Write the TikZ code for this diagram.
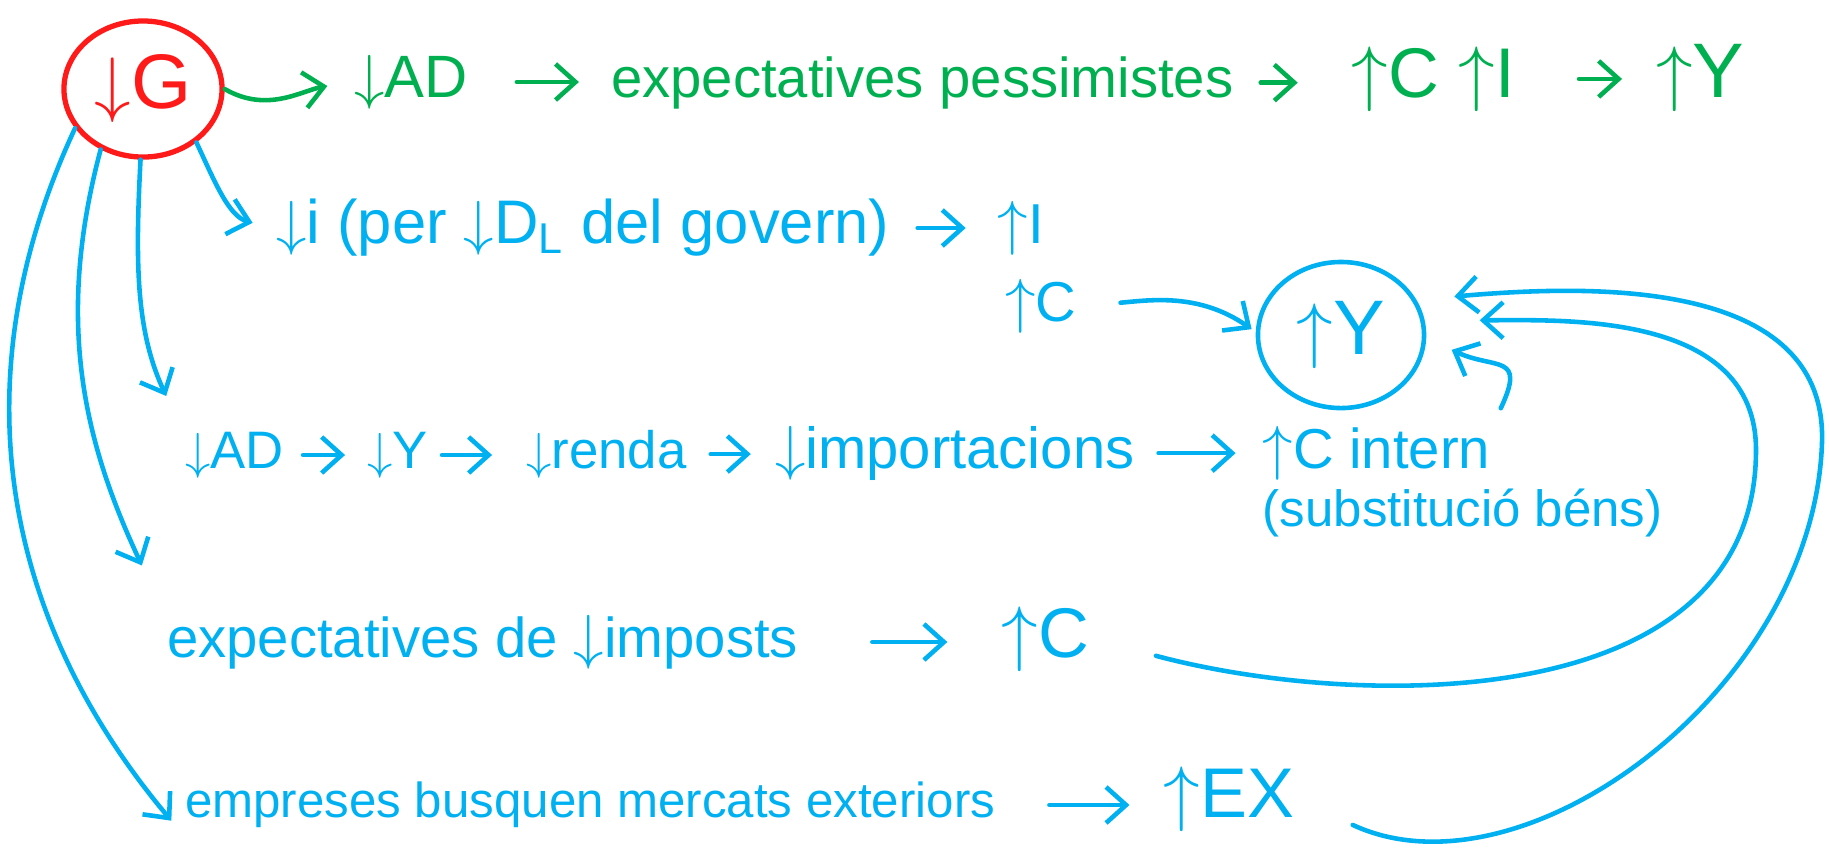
\documentclass[tikz,border=0pt]{standalone}
\usepackage{fontspec}
\setmainfont{Liberation Sans}
\usetikzlibrary{
  arrows.meta,
  positioning,
  shapes.geometric
}
\definecolor{handred}{HTML}{FF1A1A}
\definecolor{handgreen}{HTML}{00B050}
\definecolor{handblue}{HTML}{00B0F0}

\begin{document}
\begin{tikzpicture}[
  x=0.01cm, y=0.01cm,
  gtext/.style={text=handgreen, inner sep=1pt, font=\fontsize{16}{19}\selectfont},
  btext/.style={text=handblue, inner sep=1pt, font=\fontsize{16}{19}\selectfont},
  sz/.style={font=\fontsize{#1}{#1}\selectfont},
  redcirc/.style={
    ellipse, draw=handred, line width=1.5pt, text=handred, inner sep=0pt,
    minimum width=1.58cm, minimum height=1.36cm, font=\fontsize{22}{26}\selectfont,
  },
  bluecirc/.style={
    ellipse, draw=handblue, line width=1.3pt, text=handblue, inner sep=0pt,
    minimum width=1.66cm, minimum height=1.46cm, font=\fontsize{22}{26}\selectfont,
  },
  garrow/.style={->, >={Straight Barb[length=2mm,width=3.6mm]}, line width=1.3pt,
    line cap=round, draw=handgreen, shorten <=2mm, shorten >=2mm},
  barrow/.style={->, >={Straight Barb[length=2mm,width=3.6mm]}, line width=1.3pt,
    line cap=round, draw=handblue, shorten <=2mm, shorten >=2mm},
]
\useasboundingbox (0,0) rectangle (1829,-856);

\node[redcirc] (G) at (143,-89) {$\downarrow$G};

% top chain
\node[gtext, sz=17, anchor=west] (gAD) at (350,-82) {$\downarrow$AD};
\node[gtext, base right=1.35cm of gAD] (gexp) {expectatives pessimistes};
\node[gtext, sz=20, base right=1.1cm of gexp] (gCI) {$\uparrow$C $\uparrow$I};
\node[gtext, sz=22, base right=1.33cm of gCI] (gY) {$\uparrow$Y};

% interest rate
\node[btext, sz=17.5, anchor=west] (bi) at (272,-228) {$\downarrow$i (per $\downarrow$D\textsubscript{L} del govern)};
\node[btext, base right=1.0cm of bi] (bIup) {$\uparrow$I};
\node[btext, below=0.15cm of bIup, xshift=0.2cm] (bCup) {$\uparrow$C};

\node[bluecirc] (bigY) at (1341,-335) {$\uparrow$Y};

% imports
\node[btext, sz=15, anchor=west] (bAD) at (181,-455) {$\downarrow$AD};
\node[btext, sz=15, base right=0.75cm of bAD] (bY) {$\downarrow$Y};
\node[btext, sz=15, base right=0.9cm of bY] (brenda) {$\downarrow$renda};
\node[btext, sz=16.5, base right=0.8cm of brenda] (bimp) {$\downarrow$importacions};
\node[btext, base right=1.2cm of bimp] (cint) {$\uparrow$C intern};
\node[btext, sz=14.5, anchor=north west] (subst) at (cint.south west) {(substitució béns)};

% taxes
\node[btext, anchor=west] (bexp4) at (163,-642) {expectatives de $\downarrow$imposts};
\node[btext, sz=20, base right=1.95cm of bexp4] (bC4) {$\uparrow$C};

% exports
\node[btext, sz=14, anchor=west] (bemp) at (181,-805) {empreses busquen mercats exteriors};
\node[btext, sz=20, base right=1.6cm of bemp] (bEX) {$\uparrow$EX};

% arrows out of G
\draw[garrow, shorten <=0mm, shorten >=2.3mm] (G.0) to[out=-30, in=190] (gAD.west);
\draw[barrow, shorten <=0mm] (G.-45) to[out=-65, in=165] (bi.west);
\draw[barrow, shorten <=0mm, shorten >=3.5mm] (G.-92) to[out=-93, in=115] (bAD.north west);
\draw[barrow, shorten <=0mm, shorten >=5mm] (G.-125) to[out=-105, in=115] (bexp4.north west);
\draw[barrow, shorten <=0mm, shorten >=1.5mm] (G.-150) to[out=-115, in=130] (bemp.south west);

% chains
\draw[garrow, shorten <=4.5mm, shorten >=2.8mm] (gAD.east) -- (gAD.east -| gexp.west);
\draw[garrow, shorten <=2.3mm, shorten >=5mm] (gexp.east) -- (gexp.east -| gCI.west);
\draw[garrow, shorten <=6mm, shorten >=3mm] (gCI.east) -- (gCI.east -| gY.west);
\draw[barrow, shorten <=2.4mm, shorten >=2.8mm] (bi.east) -- (bi.east -| bIup.west);
\draw[barrow, shorten <=1.5mm, shorten >=1.8mm] (bAD.east) -- (bAD.east -| bY.west);
\draw[barrow, shorten <=1mm, shorten >=3mm] (bY.east) -- (bY.east -| brenda.west);
\draw[barrow, shorten <=2mm, shorten >=2mm] (brenda.east) -- (brenda.east -| bimp.west);
\draw[barrow, shorten <=2mm, shorten >=2.3mm] (bimp.east) -- (bimp.east -| cint.west);
\draw[barrow, shorten <=7mm, shorten >=5mm] (bexp4.east) -- (bexp4.east -| bC4.west);
\draw[barrow, shorten <=5mm, shorten >=3mm] (bemp.east) -- (bemp.east -| bEX.west);

% into Y
\draw[barrow, shorten <=4mm, shorten >=0.5mm] (bCup.east) to[out=5, in=145] (bigY.178);
\draw[barrow, shorten <=1.5mm, shorten >=2.8mm] (cint.north east) to[out=65, in=-25, looseness=1.8] (bigY.-2);
\draw[barrow, shorten <=6.5mm, shorten >=5.5mm] (bC4.east) to[out=-15, in=-90] (1756,-450) to[out=90, in=0] (bigY.10);
\draw[barrow, shorten <=6mm, shorten >=3.8mm] (bEX.east) to[out=-25, in=-92] (1822,-443) to[out=88, in=5] (bigY.25);

\end{tikzpicture}
\end{document}
